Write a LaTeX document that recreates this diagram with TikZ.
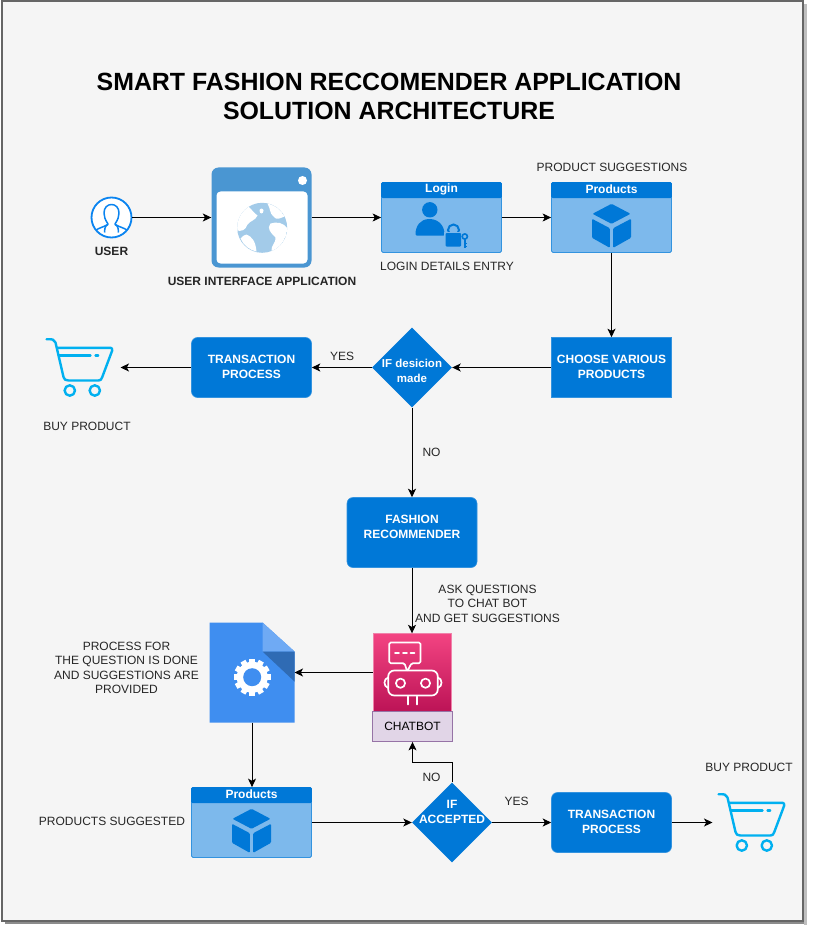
\documentclass[tikz,border=0pt]{standalone}
\usepackage{fontspec}
\setmainfont{Liberation Sans}
\usetikzlibrary{arrows.meta,shapes.geometric,calc}
\definecolor{azure}{HTML}{0078D7}
\definecolor{panelfill}{HTML}{7DB9EC}
\definecolor{webblue}{HTML}{4A96D2}
\definecolor{globeblue}{HTML}{A3CBE9}
\definecolor{cartblue}{HTML}{00B0F0}
\definecolor{docblue}{HTML}{3F8EF0}
\definecolor{chattop}{HTML}{F34482}
\definecolor{chatbottom}{HTML}{BC1356}
\definecolor{chatedge}{HTML}{F082AA}
\definecolor{lilac}{HTML}{E1D5E7}
\definecolor{lilacedge}{HTML}{9673A6}
\definecolor{userblue}{HTML}{0A84F0}
\tikzset{
  x=1pt,y=-1pt,
  conn/.style={black,line width=1pt,-{Stealth[length=8.5pt,width=8pt,inset=2.2pt]}},
  lbl/.style={font=\fontsize{12}{14.5}\selectfont,text=black!85,align=center,inner sep=0pt},
  blbl/.style={lbl,font=\fontsize{12}{14.5}\selectfont\bfseries},
  wlbl/.style={font=\fontsize{12}{15}\selectfont\bfseries,text=white,align=center,inner sep=0pt},
  flowbox/.style={rectangle,rounded corners=6pt,fill=azure,draw=azure!80!white,line width=.6pt,inner sep=0pt,minimum width=120pt,minimum height=60pt},
  dia/.style={diamond,aspect=1,fill=azure,inner sep=0pt,minimum width=80pt,minimum height=80pt},
  anchorbox/.style={rectangle,inner sep=0pt,outer sep=0pt},
  panel/.style={rectangle,rounded corners=1.5pt,fill=panelfill,draw=azure!80!white,line width=.8pt,inner sep=0pt,minimum width=120pt,minimum height=70pt},
  cartline/.style={draw=cartblue,line width=2.4pt,line cap=round,line join=round},
}
\newcommand{\cubeicon}[1]{%
  \begin{scope}[shift={(#1)},fill=azure,rounded corners=1pt]
    \fill (60,21.3)--(79,31.3)--(60,41.3)--(41,31.3)--cycle;
    \fill (40.5,36.3)--(58.3,45.7)--(58.3,65.3)--(40.5,55.3)--cycle;
    \fill (61.7,45.7)--(79.5,36.3)--(79.5,55.3)--(61.7,65.3)--cycle;
  \end{scope}}
\newcommand{\panelhead}[2]{%
  \fill[azure,rounded corners=1.5pt] ($(#1.north west)$) rectangle ($(#1.north east)+(0,16)$);
  \node[wlbl] at ($(#1.north)+(0,7.5)$) {#2};}
\newcommand{\carticon}[1]{%
  \begin{scope}[shift={(#1)}]
    \draw[cartline] (1,1.7) .. controls (7,1.5) and (9,2) .. (10,5) -- (18,39.5) .. controls (18.6,42) and (20,43) .. (23,43)
       -- (53,43) .. controls (55,43) and (56,42) .. (56.7,39.7) -- (66.7,13) .. controls (67,11) and (66,10.3) .. (65,10.3) -- (11.7,10.3);
    \draw[cartline] (13.3,18) -- (45,18);
    \draw[cartline] (50,18) -- (52.7,18);
    \draw[cartline] (24.3,53) circle (5.2);
    \draw[cartline] (49.3,53) circle (5.2);
  \end{scope}}
\begin{document}
\begin{tikzpicture}
\useasboundingbox (0,0) rectangle (815,933);
\fill[white] (0,0) rectangle (815,933);
% frame
\fill[black!45] (5,4) rectangle (806,924);
\fill[black!25] (804,4) rectangle (807,925);
\filldraw[fill=black!4,draw=black!60,line width=1.2pt] (2,1) rectangle (803,921);
\begin{scope}[shift={(0.5,0.5)}]
% title
\node[inner sep=0pt,font=\fontsize{24.9}{29}\selectfont\bfseries,align=center,text=black] (title) at (388.5,96) {SMART FASHION RECCOMENDER APPLICATION\\SOLUTION ARCHITECTURE};
% user
\node[circle,draw=userblue,line width=1.8pt,fill=white,minimum size=40pt,inner sep=0pt] (user) at (111,217) {};
\begin{scope}
  \clip (111,217) circle (19.5);
  \draw[userblue,line width=1.5pt,line join=round,fill=white] (104,232) .. controls (104,226) and (106,224.5) .. (107.5,223.5) .. controls (104.5,219) and (103.5,216) .. (103.5,212.5) .. controls (103.5,207) and (107,204) .. (111,204) .. controls (115,204) and (118.5,207) .. (118.5,212.5) .. controls (118.5,216) and (117.5,219) .. (114.5,223.5) .. controls (116,224.5) and (118,226) .. (118,232);
  \draw[userblue,line width=1.5pt] (95,230) .. controls (98,227.5) and (103,226.5) .. (107.5,224);
  \draw[userblue,line width=1.5pt] (127,230) .. controls (124,227.5) and (119,226.5) .. (114.5,224);
\end{scope}
\node[blbl] (userl) at (111,251) {USER};
% browser
\node[rectangle,rounded corners=7pt,fill=webblue,inner sep=0pt,minimum width=100pt,minimum height=100pt] (web) at (261,217) {};
\fill[white,rounded corners=4pt] (216,191) rectangle (307,263);
\fill[white] (302,180) circle (4.5);
\fill[globeblue] (261.7,227.3) circle (25);
\begin{scope}
  \clip (261.7,227.3) circle (25);
  \fill[white] (248,206) .. controls (252,210) and (254,213) .. (257,215) .. controls (255,220) and (250,220) .. (247,224) .. controls (245,230) and (241,231) .. (236,230) .. controls (235,222) and (240,211) .. (248,206) -- cycle;
  \fill[white] (259,210) .. controls (259,207.5) and (263,207.5) .. (263,210) .. controls (263,214) and (259,214) .. (259,210) -- cycle;
  \fill[white] (267,203) .. controls (270,208) and (269,213) .. (273,216) .. controls (276,220) and (279,218) .. (284,216) .. controls (281,210) and (275,205) .. (267,203) -- cycle;
  \fill[white] (246,234) .. controls (251,236) and (255,240) .. (256,251) .. controls (250,250) and (243,245) .. (240,238) .. controls (242,236) and (244,234) .. (246,234) -- cycle;
  \fill[white] (270,223) .. controls (276,221) and (283,222) .. (287,228) .. controls (286,238) and (280,247) .. (271,251) .. controls (270,245) and (276,242) .. (275,237) .. controls (270,232) and (266,228) .. (270,223) -- cycle;
\end{scope}
\node[blbl] (webl) at (261.5,281) {USER INTERFACE APPLICATION};
% login
\node[panel] (login) at (441,217) {};
\panelhead{login}{Login}
\fill[azure] (429.3,209.3) circle (7.7);
\fill[azure,rounded corners=1pt] (415,235) .. controls (415,225) and (420,219) .. (429,218.5) .. controls (438,219) and (444,225) .. (444,235) -- cycle;
\draw[panelfill,line width=1.5pt] (453,230) circle (8);
\draw[azure,line width=2pt] (453,229.5) circle (5.5);
\fill[panelfill] (443.5,231.5) rectangle (462.2,247);
\fill[azure,rounded corners=1pt] (445,232.5) rectangle (460.7,246);
\draw[azure,line width=1.6pt] (464.3,236) circle (2.6);
\draw[azure,line width=1.6pt] (464.3,238.5) -- (464.3,247.5) (464.3,243) -- (466.3,243) (464.3,246) -- (466.3,246);
\node[lbl] (loginl) at (446.5,266) {LOGIN DETAILS ENTRY};
% products 1
\node[panel] (prod) at (611,217) {};
\panelhead{prod}{Products}
\cubeicon{551,182}
\node[lbl] (prodl) at (611.5,166.5) {PRODUCT SUGGESTIONS};
% row 2
\node[rectangle,fill=azure,draw=azure!80!white,line width=.6pt,inner sep=0pt,minimum width=120pt,minimum height=60pt] (choose) at (611,367) {};
\node[wlbl] (choosel) at (611,366) {CHOOSE VARIOUS\\PRODUCTS};
\node[dia] (d1) at (411.5,367) {};
\node[wlbl,font=\fontsize{11.5}{15}\selectfont\bfseries] (d1l) at (411.5,370) {IF desicion\\made};
\node[flowbox] (trans1) at (251,367) {};
\node[wlbl] (trans1l) at (251,366) {TRANSACTION\\PROCESS};
\node[anchorbox,minimum width=75pt,minimum height=60pt] (cart1) at (82.5,367) {};
\carticon{45,337}
\node[lbl] (buy1) at (86.5,426) {BUY PRODUCT};
\node[lbl] (yes1) at (341.5,356) {YES};
\node[lbl] (no1) at (431,451.5) {NO};
% recommender
\node[flowbox,minimum width=130pt,minimum height=70pt] (fash) at (411.5,532) {};
\node[wlbl] (fashl) at (411.5,526) {FASHION\\RECOMMENDER};
\node[lbl] (ask) at (487,603) {ASK QUESTIONS\\TO CHAT BOT\\AND GET SUGGESTIONS};
% chatbot
\node[rectangle,inner sep=0pt,minimum width=78pt,minimum height=78pt,top color=chattop,bottom color=chatbottom,draw=chatedge,line width=.4pt] (chat) at (411.5,672) {};
\begin{scope}[draw=white,line width=1.7pt,line join=round,line cap=round]
  \draw[rounded corners=1.5pt] (388.7,642) -- (420,642) -- (420,662.7) -- (411,662.7) -- (406.7,671) -- (404,662.7) -- (388.7,662.7) -- cycle;
  \draw (394.5,652.3) -- (398.5,652.3) (402.5,652.3) -- (406.5,652.3) (410,652.3) -- (414,652.3);
  \draw[rounded corners=6pt] (404,670) -- (437.3,670) -- (437.3,695) -- (387.7,695) -- (387.7,670) -- (404,670);
  \draw (400,682.7) circle (4.6);
  \draw (425,682.7) circle (4.6);
  \draw (387.7,677) .. controls (383,678) and (382.5,686) .. (387.7,687.5);
  \draw (437.3,677) .. controls (442,678) and (442.5,686) .. (437.3,687.5);
  \draw (407.3,696) -- (407.3,704) (416.7,696) -- (416.7,704);
\end{scope}
\node[rectangle,fill=lilac,draw=lilacedge,line width=.8pt,inner sep=0pt,minimum width=80pt,minimum height=30pt,lbl,text=black] (chatl) at (412,726) {CHATBOT};
% doc
\node[anchorbox,minimum width=85pt,minimum height=100pt] (doc) at (251.5,672) {};
\fill[docblue] (209,622) -- (262,622) -- (294,651) -- (294,722) -- (209,722) -- cycle;
\fill[docblue!75!white] (262,622) -- (294,651) -- (262,651) -- cycle;
\fill[docblue!75!black] (262,651) -- (294,651) -- (294,681) -- cycle;
\fill[white] (251.7,676.7) circle (15.5);
\foreach \a in {0,30,...,330}{
  \fill[white,rotate around={\a:(251.7,676.7)}] (248.9,658.2) rectangle (254.5,665);
}
\fill[docblue] (251.7,676.7) circle (9);
\node[lbl] (procl) at (126,667.5) {PROCESS FOR\\THE QUESTION IS DONE\\AND SUGGESTIONS ARE\\PROVIDED};
% products 2
\node[panel] (prod2) at (251,822) {};
\panelhead{prod2}{Products}
\cubeicon{191,787}
\node[lbl] (prod2l) at (111.5,821) {PRODUCTS SUGGESTED};
% row 4
\node[dia] (d2) at (451.5,822) {};
\node[wlbl] (d2l) at (451.5,811) {IF\\ACCEPTED};
\node[flowbox] (trans2) at (611,822) {};
\node[wlbl] (trans2l) at (611,821) {TRANSACTION\\PROCESS};
\node[anchorbox,minimum width=73pt,minimum height=60pt] (cart2) at (748.5,822) {};
\carticon{717,792}
\node[lbl] (buy2) at (748.5,766.5) {BUY PRODUCT};
\node[lbl] (no2) at (431,776.5) {NO};
\node[lbl] (yes2) at (516,801) {YES};
% connectors
\draw[conn] (user) -- (web);
\draw[conn] (web) -- (login);
\draw[conn] (login) -- (prod);
\draw[conn] (prod) -- (choose);
\draw[conn] (choose) -- (d1);
\draw[conn] (d1) -- (trans1);
\draw[conn] (trans1) -- (cart1);
\draw[conn] (d1) -- (fash);
\draw[conn] (fash) -- (chat);
\draw[conn] (chat) -- (doc);
\draw[conn] (doc) -- (doc|-prod2.north);
\draw[conn] (prod2) -- (d2);
\draw[conn] (d2) -- (trans2);
\draw[conn] (trans2) -- (cart2);
\draw[conn] (d2.north) -- ++(0,-20) -| (chatl.south);
\end{scope}
\end{tikzpicture}
\end{document}
